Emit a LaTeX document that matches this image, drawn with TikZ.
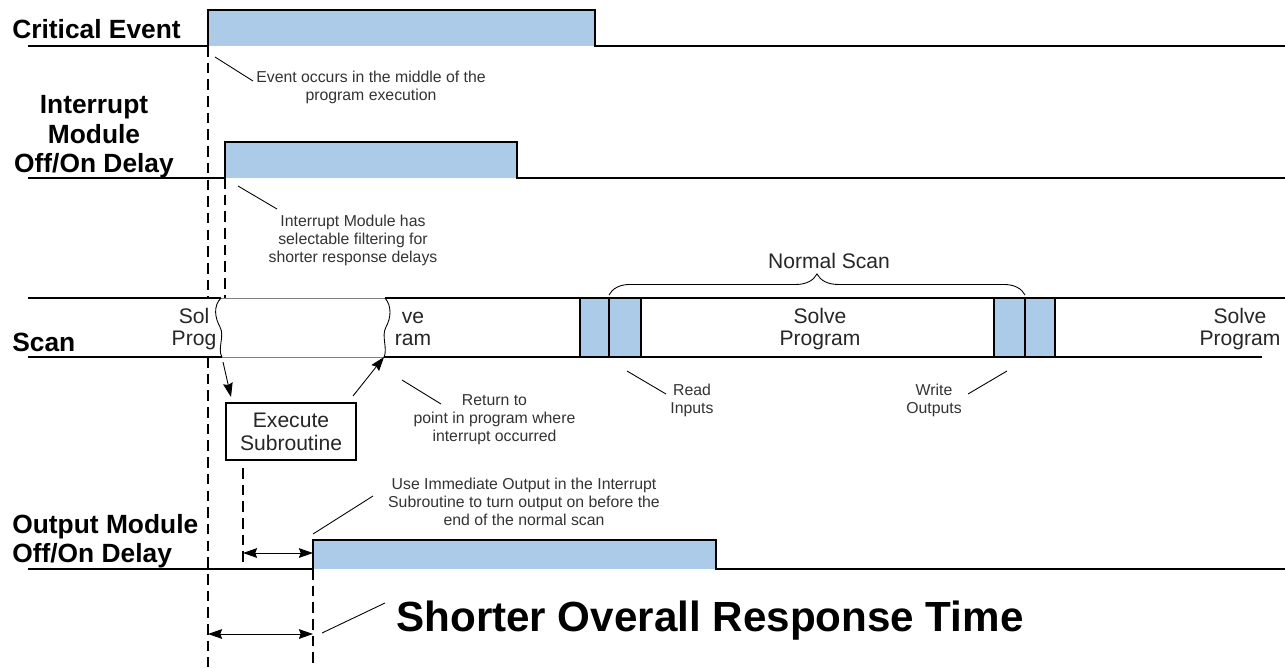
\documentclass[tikz,border=0pt]{standalone}
\usepackage{fontspec}
\setmainfont{Liberation Sans}
\usetikzlibrary{arrows.meta,decorations.pathreplacing}
\definecolor{pulseblue}{RGB}{171,203,233}

\begin{document}
\begin{tikzpicture}[
    x = 0.02cm,
    y = -0.02cm,
    >={Stealth[length=8pt,width=5.5pt,inset=1pt]},
    signal/.style = {line width=0.85pt},
    pulse/.style = {fill=pulseblue, draw=black, line width=0.6pt},
    guide/.style = {dash pattern=on 6pt off 3.5pt, line width=0.6pt},
    lead/.style = {line width=0.5pt},
    title/.style = {font=\fontsize{15}{16.7}\selectfont\bfseries, inner sep=0pt},
    note/.style = {font=\fontsize{9}{10.2}\selectfont, text=black!80, align=center, inner sep=0pt},
    scantext/.style = {font=\fontsize{12}{13}\selectfont, text=black!85, align=center, inner sep=0pt},
]
\useasboundingbox (0,0) rectangle (1285,667);

% critical event
\fill[pulseblue] (208,10) rectangle (595,46);
\draw[signal] (28,46) -- (208,46) -- (208,10) -- (595,10) -- (595,46) -- (1285,46);
\node[title, anchor=base west] (lbl_crit) at (12,38) {Critical Event};
\draw[guide] (208,46) -- (208,298);
\draw[guide] (208,357) -- (208,667);

\node[note] (note_evt) at (371,87) {Event occurs in the middle of the\\program execution};
\coordinate (pt_evt_a) at (215,57);
\coordinate (pt_evt_b) at (253,81);
\draw[lead] (pt_evt_a) -- (pt_evt_b);

% interrupt module
\fill[pulseblue] (225,142) rectangle (517,178);
\draw[signal] (28,178) -- (225,178) -- (225,142) -- (517,142) -- (517,178) -- (1285,178);
\node[title, align=center] (lbl_intr) at (94,137) {Interrupt\\Module\\Off/On Delay};
\draw[guide] (225,178) -- (225,298);

\node[note] (note_intr) at (353,240) {Interrupt Module has\\selectable filtering for\\shorter response delays};
\coordinate (pt_intr_a) at (238,186);
\coordinate (pt_intr_b) at (277,209);
\draw[lead] (pt_intr_a) -- (pt_intr_b);

% scan
\draw[signal] (28,298) -- (221,298);
\draw[signal] (28,357) -- (222,357);
\draw[lead, gray] (221,298) -- (385,298);
\draw[lead, gray] (222,357) -- (384,357);
\draw[signal] (385,298) -- (1285,298);
\draw[signal] (384,357) -- (1262,357);
\draw[lead] (221,298) .. controls (213,306) and (215,318) .. (220,327) .. controls (225,336) and (217,349) .. (222,357);
\draw[lead] (385,298) .. controls (392,306) and (391,318) .. (386,327) .. controls (381,336) and (388,349) .. (384,357);
\node[title, anchor=base west] (lbl_scan) at (12,351) {Scan};

\node[scantext] (scan_a) at (194,329) {Sol\\Prog};
\node[scantext] (scan_b) at (413,329) {ve\\ram};
\foreach \xa/\xb in {580/609, 609/641, 994/1025, 1025/1055}
    \draw[pulse] (\xa,298) rectangle (\xb,357);
\node[scantext] (scan_c) at (820,329) {Solve\\Program};
\node[scantext] (scan_d) at (1240,329) {Solve\\Program};

\coordinate (brace_l) at (609,295);
\coordinate (brace_r) at (1025,295);
\draw[lead, decorate, decoration={brace, amplitude=12pt}] (brace_l) -- (brace_r);
\node[font=\fontsize{12}{14}\selectfont, text=black!85, anchor=base, inner sep=0pt] (lbl_normal) at (829,268) {Normal Scan};

\node[note] (note_read) at (692,400) {Read\\Inputs};
\coordinate (pt_read_a) at (627,371);
\coordinate (pt_read_b) at (666,394);
\draw[lead] (pt_read_a) -- (pt_read_b);
\node[note] (note_write) at (934,400) {Write\\Outputs};
\coordinate (pt_write_a) at (1007,371);
\coordinate (pt_write_b) at (968,394);
\draw[lead] (pt_write_a) -- (pt_write_b);

% subroutine
\node[draw, line width=0.6pt, scantext, minimum width=2.6cm, minimum height=1.14cm] (exec) at (291,431.5) {Execute\\Subroutine};
\coordinate (brk_l) at (223,362);
\coordinate (call_end) at (231,397);
\draw[lead, ->] (brk_l) -- (call_end);
\coordinate (ret_start) at (353,396);
\coordinate (brk_r) at (384,357);
\draw[lead, ->] (ret_start) -- (brk_r);

\node[note] (note_ret) at (494.5,420) {Return to\\point in program where\\interrupt occurred};
\coordinate (pt_ret_a) at (402,380);
\coordinate (pt_ret_b) at (441,404);
\draw[lead] (pt_ret_a) -- (pt_ret_b);

% output module
\fill[pulseblue] (313,540) rectangle (716,569);
\draw[signal] (28,569) -- (313,569) -- (313,540) -- (716,540) -- (716,569) -- (1285,569);
\node[title, align=left, anchor=west] (lbl_out) at (12,541) {Output Module\\Off/On Delay};
\draw[guide] (243,468) -- (243,569);
\draw[guide] (313,569) -- (313,667);

\node[note] (note_out) at (524,502) {Use Immediate Output in the Interrupt\\Subroutine to turn output on before the\\end of the normal scan};
\coordinate (pt_out_a) at (313,534);
\coordinate (pt_out_b) at (373,496);
\draw[lead] (pt_out_a) -- (pt_out_b);

\coordinate (dly_l) at (243,553);
\coordinate (dly_r) at (313,553);
\draw[lead, <->] (dly_l) -- (dly_r);

% overall response
\coordinate (tot_l) at (208,634);
\coordinate (tot_r) at (313,634);
\draw[lead, <->] (tot_l) -- (tot_r);
\node[font=\fontsize{24}{24}\selectfont\bfseries, anchor=base west, inner sep=0pt] (lbl_total) at (396,631) {Shorter Overall Response Time};
\coordinate (pt_tot_a) at (322,633);
\coordinate (pt_tot_b) at (385,603);
\draw[lead] (pt_tot_a) -- (pt_tot_b);

\end{tikzpicture}
\end{document}
